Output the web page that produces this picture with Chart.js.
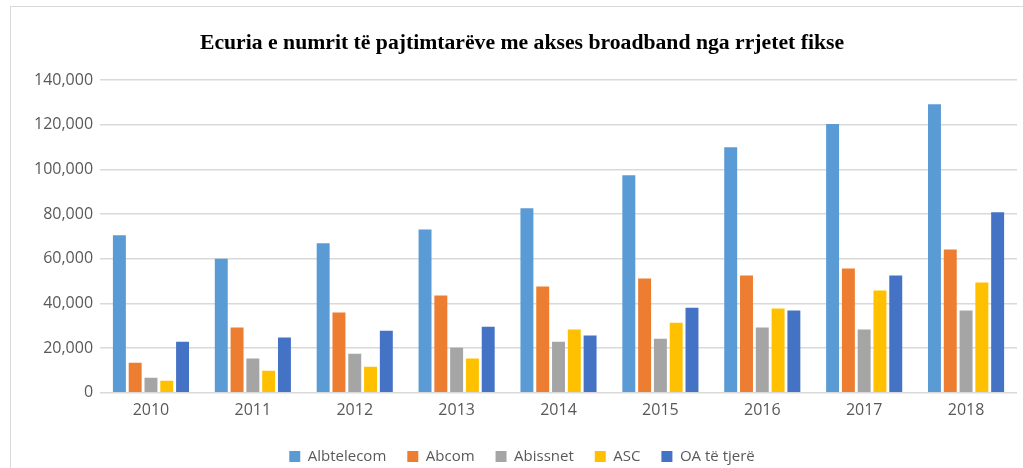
<!DOCTYPE html>
<html>
<head>
<meta charset="utf-8">
<script src="https://cdn.jsdelivr.net/npm/chart.js@4"></script>
<style>
    body { margin: 0; background: #fff; overflow: hidden; }
    #frame { position: absolute; left: 10px; top: 6px; width: 1100px; height: 600px; border: 1px solid #d9d9d9; }
    #wrap { position: absolute; left: 0; top: 0; width: 1023px; height: 468px; }
</style>
</head>
<body>
<div id="frame"></div>
<div id="wrap"><canvas id="broadband-chart"></canvas></div>
<script>
const ctx = document.getElementById('broadband-chart').getContext('2d');

// Years on the x axis
const years = ['2010', '2011', '2012', '2013', '2014', '2015', '2016', '2017', '2018'];

// Subscribers per operator
const albtelecom = [70500, 60000, 66900, 73100, 82600, 97400, 109900, 120300, 129200];
const abcom = [13500, 29200, 35900, 43500, 47600, 51200, 52500, 55600, 64200];
const abissnet = [6700, 15300, 17500, 20200, 22900, 24200, 29200, 28300, 36800];
const asc = [5400, 9900, 11700, 15300, 28300, 31400, 37700, 45800, 49400];
const oaTeTjere = [22900, 24700, 27800, 29600, 25600, 38100, 36800, 52500, 80800];

const tickColor = '#595959';
const gridColor = '#d9d9d9';

function series(label, data, color) {
    return {
        label: label,
        data: data,
        backgroundColor: color,
        borderWidth: 0,
        barPercentage: 0.82,
        categoryPercentage: 0.775
    };
}

let chart = new Chart(ctx, {
    type: 'bar',
    data: {
        labels: years,
        datasets: [
            series('Albtelecom', albtelecom, '#5B9BD5'),
            series('Abcom', abcom, '#ED7D31'),
            series('Abissnet', abissnet, '#A5A5A5'),
            series('ASC', asc, '#FFC000'),
            series('OA të tjerë', oaTeTjere, '#4472C4')
        ]
    },
    options: {
        responsive: true,
        maintainAspectRatio: false,
        animation: false,
        layout: {
            padding: { top: 18, left: 27, right: 6, bottom: -6 }
        },
        plugins: {
            title: {
                display: true,
                text: 'Ecuria e numrit të pajtimtarëve me akses broadband nga rrjetet fikse',
                color: '#000',
                font: { family: '"Liberation Serif", "Times New Roman", serif', size: 21.7, weight: 'bold' },
                padding: { top: 12, bottom: 24 }
            },
            legend: {
                position: 'bottom',
                labels: {
                    color: tickColor,
                    boxWidth: 11,
                    boxHeight: 11,
                    padding: 21,
                    font: { family: '"Open Sans", sans-serif', size: 15 }
                }
            },
            tooltip: { enabled: false }
        },
        scales: {
            x: {
                grid: { display: false },
                border: { display: false },
                // a bit more room between the year labels and the legend
                afterFit: (scale) => { scale.height += 8; },
                ticks: {
                    color: tickColor,
                    padding: 0,
                    font: { family: '"Open Sans", sans-serif', size: 16 }
                }
            },
            y: {
                min: 0,
                max: 140000,
                grid: { color: gridColor, lineWidth: 1.5, drawTicks: false },
                border: { display: false },
                ticks: {
                    stepSize: 20000,
                    color: tickColor,
                    padding: 7,
                    font: { family: '"Open Sans", sans-serif', size: 16 },
                    callback: (value) => value.toLocaleString('en-US')
                }
            }
        }
    }
});
</script>
</body>
</html>
